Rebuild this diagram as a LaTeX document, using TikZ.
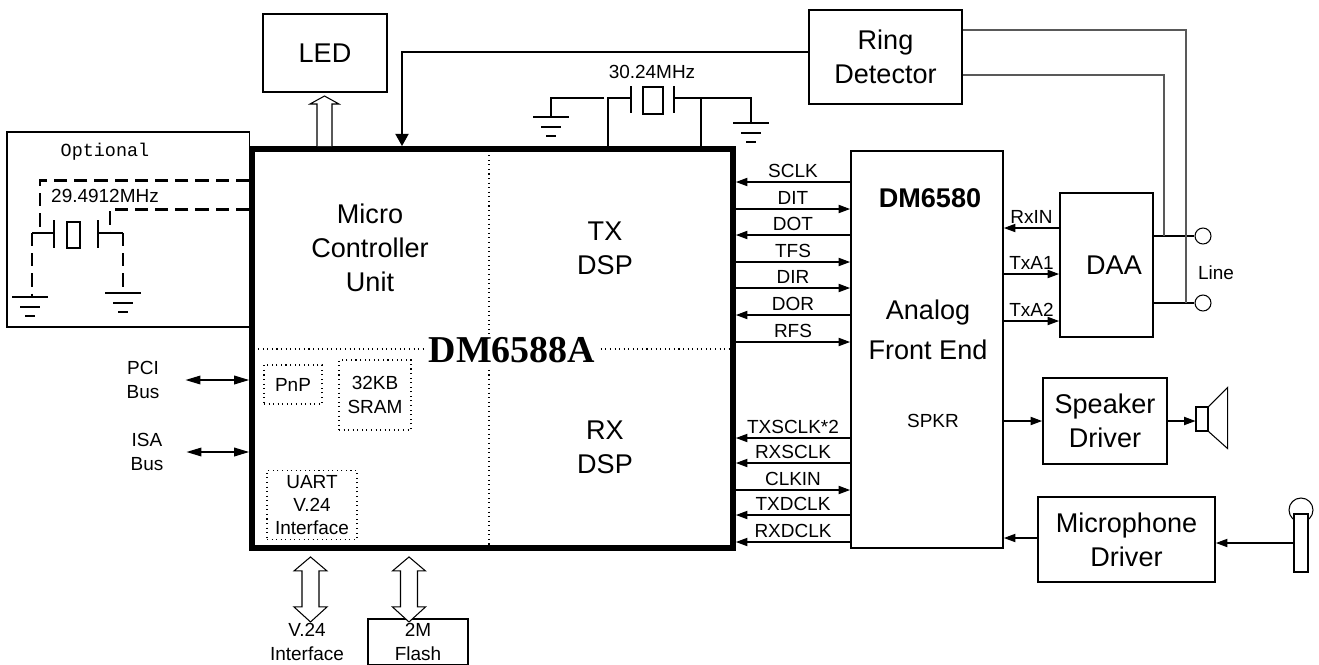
\documentclass[tikz,border=0pt]{standalone}
\usepackage{fontspec}
\setmainfont{Liberation Sans}
\newfontfamily\chipfont{Liberation Serif}
\newfontfamily\optfont{Liberation Mono}
\usetikzlibrary{arrows.meta}

\begin{document}
\begin{tikzpicture}[x=0.02cm, y=-0.02cm,
    box/.style={draw, line width=1.1pt, inner sep=0pt, align=center, font=\fontsize{15.4}{19.4}\selectfont},
    big/.style={align=center, font=\fontsize{15.4}{19.4}\selectfont},
    small/.style={align=center, font=\fontsize{10.8}{13.2}\selectfont},
    sig/.style={line width=0.6pt, -{Triangle[length=6.5pt,width=4.7pt]}},
    bus/.style={line width=0.6pt, {Triangle[length=8.5pt,width=5pt]}-{Triangle[length=8.5pt,width=5pt]}},
    memo/.style={draw, dotted, line width=0.6pt, inner sep=0pt, small},
    hollow/.style={draw, line width=0.6pt, fill=white},
    thin/.style={line width=0.6pt},
    opt/.style={line width=1.7pt, dash pattern=on 7.5pt off 4pt},
    term/.style={circle, draw, line width=0.6pt, minimum size=0.32cm, inner sep=0pt},
    gnd/.pic={\draw[line width=0.6pt] (-18,0) -- (18,0) (-10,10) -- (10,10) (-5,19) -- (5,19);}]

  \useasboundingbox (0,0) rectangle (1319,664);

  % main chip
  \node[draw, line width=3.4pt, minimum width=9.62cm, minimum height=7.98cm, inner sep=0pt] (chip) at (492.5,348.5) {};
  \draw[thin, dotted] (chip.north -| 489,0) -- (chip.south -| 489,0);
  \draw[thin, dotted] (chip.west |- 0,349) -- (chip.east |- 0,349);
  \node[big] (mcu) at (370,248) {Micro\\Controller\\Unit};
  \node[big] (txdsp) at (605,248) {TX\\DSP};
  \node[big] (rxdsp) at (605,447) {RX\\DSP};
  \node[fill=white, inner sep=1.7pt, font=\chipfont\bfseries\fontsize{21.6}{26}\selectfont] (title) at (512,350) {DM6588A};
  \node[memo, minimum width=1.16cm, minimum height=0.78cm] (pnp) at (293,384.5) {PnP};
  \node[memo, minimum width=1.44cm, minimum height=1.4cm] (sram) at (375,395) {32KB\\SRAM};
  \node[memo, minimum width=1.8cm, minimum height=1.38cm] (uart) at (312,505) {UART\\V.24\\Interface};

  % blocks round the chip
  \node[box, minimum width=2.48cm, minimum height=1.56cm] (led) at (325,53) {LED};
  \node[box, minimum width=3.06cm, minimum height=1.88cm] (ring) at (885.5,57) {Ring\\Detector};
  \node[box, minimum width=3.04cm, minimum height=7.94cm] (afe) at (927,349.5) {};
  \node[font=\bfseries\fontsize{15.4}{19}\selectfont] (afename) at (930,198) {DM6580};
  \node[big, font=\fontsize{15.4}{22.8}\selectfont] (afetext) at (928,330) {Analog\\Front End};
  \node[small, anchor=east] (spkr) at (965,421) {SPKR};
  \node[box, minimum width=1.86cm, minimum height=2.88cm] (daa) at (1106.5,265) {\hspace{0.3cm}DAA};
  \node[box, minimum width=2.48cm, minimum height=1.72cm] (spkdrv) at (1105,421) {Speaker\\Driver};
  \node[box, minimum width=3.54cm, minimum height=1.7cm] (micdrv) at (1126.5,539.5) {Microphone\\Driver};
  \node[box, font=\fontsize{10.8}{13.2}\selectfont, minimum width=2cm, minimum height=0.92cm] (flash) at (418,642) {2M\\Flash};
  \node[small] (v24) at (307,642) {V.24\\Interface};
  \node[small] (pci) at (143,380) {PCI\\Bus};
  \node[small] (isa) at (147,452) {ISA\\Bus};

  % LED and ring detector
  \draw[hollow] (chip.north -| 317,0) -- (317,104) -- (310,104) -- (324.5,96) -- (339,104) -- (332,104) -- (chip.north -| 332,0);
  \draw[line width=1.1pt, -{Triangle[length=7pt,width=7.5pt]}] (ring.west |- 0,52) -| (chip.north -| 402,0);

  % 30.24MHz crystal
  \draw[thin] (chip.north -| 608,0) |- (631,98);
  \draw[thin] (631,86) -- (631,113) (674,86) -- (674,113);
  \draw[thin] (643,87) rectangle (663,114);
  \draw[thin] (674,98) -| (chip.north -| 701,0);
  \draw[line width=1.1pt] (604,98) -| (551,117);
  \draw[line width=1.1pt] (697,98) -| (751,123);
  \pic at (551,117) {gnd};
  \pic at (751,123) {gnd};
  \node[small] (xt1) at (652,72) {30.24MHz};

  % optional 29.4912MHz crystal
  \draw[thin] (7,132) rectangle (chip.west |- 0,327);
  \node[font=\optfont\fontsize{10.5}{13}\selectfont] (optname) at (105,152) {Optional};
  \node[small] (xt2) at (105,196) {29.4912MHz};
  \draw[opt] (chip.west |- 0,180) -| (40,233);
  \draw[opt] (chip.west |- 0,209) -| (110,233);
  \draw[line width=1.1pt] (32,233) -- (54,233) (98,233) -- (123,233);
  \draw[thin] (54,220) -- (54,248) (98,220) -- (98,248);
  \draw[thin] (67,222) rectangle (80,248);
  \draw[opt] (32,233) -- (32,297);
  \draw[opt] (123,233) -- (123,293);
  \pic at (30,297) {gnd};
  \pic at (123,293) {gnd};

  % buses
  \draw[bus] ([xshift=0.4cm]pci.east) -- (chip.west |- pci.east);
  \draw[bus] ([xshift=0.34cm]isa.east) -- (chip.west |- isa.east);
  \draw[hollow] (chip.south -| 310.5,0) ++(0,6) -- ++(16.5,14) -- ++(-8,0) -- ++(0,36) -- ++(8,0) -- ++(-16.5,15) -- ++(-16.5,-15) -- ++(8,0) -- ++(0,-36) -- ++(-8,0) -- cycle;
  \draw[hollow] (chip.south -| 409,0) ++(0,6) -- ++(16.5,14) -- ++(-8,0) -- ++(0,36) -- ++(8,0) -- ++(-16.5,15) -- ++(-16.5,-15) -- ++(8,0) -- ++(0,-36) -- ++(-8,0) -- cycle;

  % chip to DM6580
  \foreach \y/\lab in {182/SCLK, 235/DOT, 315/DOR, 438/TXSCLK*2, 463/RXSCLK, 515/TXDCLK, 542/RXDCLK}
    \draw[sig] (afe.west |- 0,\y) -- node[above, small, inner sep=2pt] {\lab} (chip.east |- 0,\y);
  \foreach \y/\lab in {209/DIT, 262/TFS, 288/DIR, 342/RFS, 490/CLKIN}
    \draw[sig] (chip.east |- 0,\y) -- node[above, small, inner sep=2pt] {\lab} (afe.west |- 0,\y);

  % DAA and line
  \draw[sig] (daa.west |- 0,228) -- node[above, small, inner sep=2pt] {RxIN} (afe.east |- 0,228);
  \draw[sig] (afe.east |- 0,274) -- node[above, small, inner sep=2pt] {TxA1} (daa.west |- 0,274);
  \draw[sig] (afe.east |- 0,321) -- node[above, small, inner sep=2pt] {TxA2} (daa.west |- 0,321);
  \node[term] (linea) at (1203,236) {};
  \node[term] (lineb) at (1203,303) {};
  \node[small] (linename) at (1216,273) {Line};
  \draw[thin] (daa.east |- linea) -- (linea);
  \draw[thin] (daa.east |- lineb) -- (lineb);
  \draw[thin, black!65] (ring.east |- 0,30) -| (lineb.west -| 1186,0);
  \draw[thin, black!65] (ring.east |- 0,75) -| (linea.west -| 1164,0);

  % speaker
  \node[draw, thin, minimum width=0.24cm, minimum height=0.48cm, inner sep=0pt] (spk) at (1202,419) {};
  \draw[thin] (spk.north east) -- ++(19,-19) -- ++(0,61) -- (spk.south east);
  \draw[sig] (afe.east |- spkdrv.west) -- (spkdrv.west);
  \draw[sig] (spkdrv.east) -- (spk.west |- spkdrv.east);

  % microphone
  \draw[thin] (1301,510) circle[radius=0.24cm];
  \node[draw, thin, fill=white, minimum width=0.28cm, minimum height=1.16cm, inner sep=0pt] (mic) at (1301,543) {};
  \draw[sig] (mic.west) -- (micdrv.east |- mic.west);
  \draw[sig] (micdrv.west |- 0,538) -- (afe.east |- 0,538);
\end{tikzpicture}
\end{document}
